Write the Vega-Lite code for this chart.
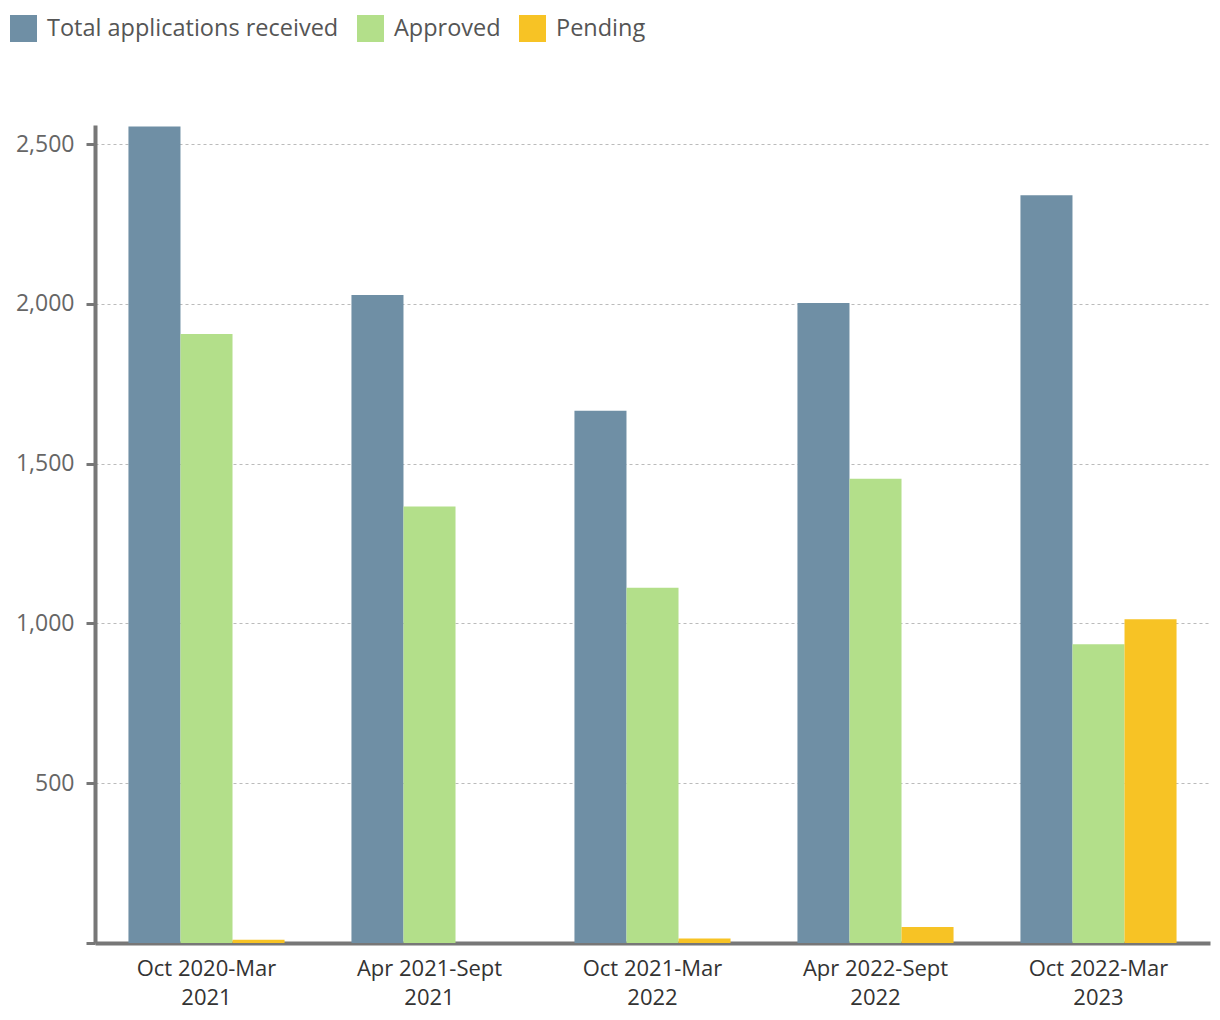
{
  "$schema": "https://vega.github.io/schema/vega-lite/v6.json",
  "width": 1115,
  "height": 818,
  "autosize": "none",
  "padding": {"left": 95, "top": 125, "right": 10, "bottom": 77},
  "background": "white",
  "config": {
    "font": "Open Sans",
    "view": {"stroke": null}
  },
  "data": {
    "values": [
      {"period": "Oct 2020-Mar 2021", "series": "Total applications received", "value": 2555},
      {"period": "Oct 2020-Mar 2021", "series": "Approved", "value": 1906},
      {"period": "Oct 2020-Mar 2021", "series": "Pending", "value": 10},
      {"period": "Apr 2021-Sept 2021", "series": "Total applications received", "value": 2028},
      {"period": "Apr 2021-Sept 2021", "series": "Approved", "value": 1366},
      {"period": "Apr 2021-Sept 2021", "series": "Pending", "value": 0},
      {"period": "Oct 2021-Mar 2022", "series": "Total applications received", "value": 1666},
      {"period": "Oct 2021-Mar 2022", "series": "Approved", "value": 1112},
      {"period": "Oct 2021-Mar 2022", "series": "Pending", "value": 14},
      {"period": "Apr 2022-Sept 2022", "series": "Total applications received", "value": 2003},
      {"period": "Apr 2022-Sept 2022", "series": "Approved", "value": 1453},
      {"period": "Apr 2022-Sept 2022", "series": "Pending", "value": 50},
      {"period": "Oct 2022-Mar 2023", "series": "Total applications received", "value": 2340},
      {"period": "Oct 2022-Mar 2023", "series": "Approved", "value": 935},
      {"period": "Oct 2022-Mar 2023", "series": "Pending", "value": 1013}
    ]
  },
  "mark": {"type": "bar"},
  "encoding": {
    "x": {
      "field": "period",
      "type": "nominal",
      "sort": null,
      "scale": {"paddingInner": 0.3, "paddingOuter": 0.15},
      "axis": {
        "title": null,
        "labelAngle": 0,
        "labelFontSize": 22,
        "labelColor": "#333333",
        "labelPadding": 15,
        "labelLineHeight": 29,
        "labelExpr": "[substring(datum.value, 0, lastindexof(datum.value, ' ')), substring(datum.value, lastindexof(datum.value, ' ') + 1)]",
        "ticks": false,
        "domainColor": "#777777",
        "domainWidth": 4,
        "grid": false
      }
    },
    "xOffset": {
      "field": "series",
      "type": "nominal",
      "sort": ["Total applications received", "Approved", "Pending"],
      "scale": {"paddingInner": 0, "paddingOuter": 0}
    },
    "y": {
      "field": "value",
      "type": "quantitative",
      "scale": {"domain": [0, 2560], "nice": false},
      "axis": {
        "title": null,
        "values": [0, 500, 1000, 1500, 2000, 2500],
        "labelExpr": "datum.value == 0 ? '' : format(datum.value, ',')",
        "labelFontSize": 23,
        "labelColor": "#666666",
        "labelPadding": 12,
        "tickSize": 9,
        "tickWidth": 3,
        "tickColor": "#777777",
        "domainColor": "#777777",
        "domainWidth": 4,
        "grid": true,
        "gridColor": "#bbbbbb",
        "gridDash": [3, 3],
        "gridWidth": 1
      }
    },
    "color": {
      "field": "series",
      "type": "nominal",
      "sort": ["Total applications received", "Approved", "Pending"],
      "scale": {
        "domain": ["Total applications received", "Approved", "Pending"],
        "range": ["#6f8fa5", "#b3df8a", "#f7c325"]
      },
      "legend": {
        "title": null,
        "orient": "none",
        "direction": "horizontal",
        "legendX": -85,
        "legendY": -110,
        "symbolType": "square",
        "symbolSize": 729,
        "symbolStrokeWidth": 0,
        "symbolOpacity": 1,
        "labelFontSize": 23.5,
        "labelColor": "#555555",
        "labelOffset": 10,
        "columnPadding": 18,
        "labelLimit": 400
      }
    }
  }
}
